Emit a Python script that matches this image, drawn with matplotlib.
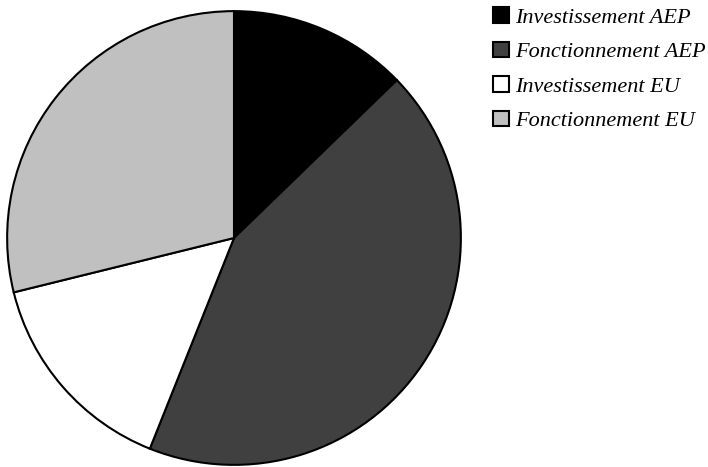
import matplotlib.pyplot as plt

labels = ["Investissement AEP", "Fonctionnement AEP", "Investissement EU", "Fonctionnement EU"]
values = [12.75, 43.3, 15.1, 28.85]
colors = ["#000000", "#404040", "#ffffff", "#c0c0c0"]

fig = plt.figure(figsize=(7.08, 4.67), dpi=100)
ax = fig.add_axes([6 / 708, 1 / 467, 456 / 708, 456 / 467])

wedges, _ = ax.pie(values, colors=colors, startangle=90, counterclock=False,
                   wedgeprops=dict(edgecolor="black", linewidth=1.5))
ax.set_xlim(-1.005, 1.005)
ax.set_ylim(-1.005, 1.005)
ax.set_aspect("equal")

fig.legend(wedges, labels, loc="upper left", bbox_to_anchor=(493 / 708, 1 - 7 / 467),
           frameon=False, prop=dict(family="Liberation Serif", style="italic", size=16),
           handlelength=0.7, handleheight=0.7, handletextpad=0.3, labelspacing=0.63,
           borderpad=0, borderaxespad=0)

fig.savefig("out.png", dpi=100)
